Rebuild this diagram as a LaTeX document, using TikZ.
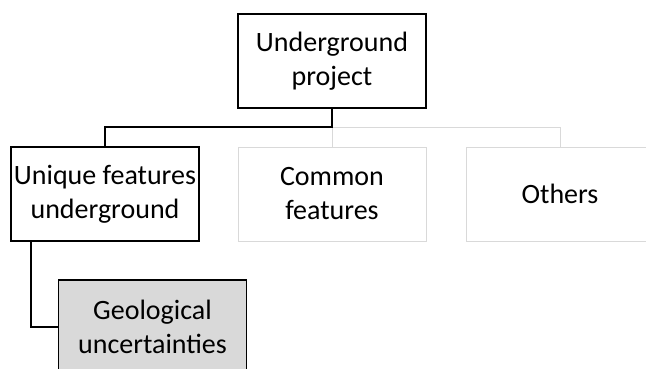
\documentclass[tikz,border=0pt]{standalone}
\usepackage{fontspec}
\setmainfont{Carlito}
\definecolor{palegray}{HTML}{D9D9D9}
\definecolor{boxgray}{HTML}{D9D9D9}

\begin{document}
\begin{tikzpicture}[x=1pt,y=-1pt]
\tikzset{every node/.style={font=\fontsize{28}{34}\selectfont, align=center},
  box/.style={rectangle,draw,line width=1.6pt,minimum width=188pt,minimum height=94pt,inner sep=1pt},
  palebox/.style={box,draw=palegray,line width=1pt},
  link/.style={line width=1.6pt},
  palelink/.style={line width=1pt,draw=palegray}}
\useasboundingbox (0,0) rectangle (646,368);
\clip (0,0) rectangle (646,368);

% Nodes (positions in pixels of the original)
\node[box] (project) at (332,61) {Underground\\project};
\node[box] (unique) at (105,194) {Unique features\\underground};
\node[palebox] (common) at (332,194) {Common\\features};
\node[palebox] (others) at (560,194) {Others};
\node[box,fill=boxgray] (geo) at (152.5,327) {Geological\\uncertainties};

% Junctions
\coordinate (split) at (332,127);
\coordinate (drop) at (31,241);

% Connectors
\draw[palelink] (split) -- (common.north);
\draw[palelink] (split) -| (others.north);
\draw[link] (project.south) -- (split) -| (unique.north);
\draw[link] (drop) |- (geo.west);

\end{tikzpicture}
\end{document}
